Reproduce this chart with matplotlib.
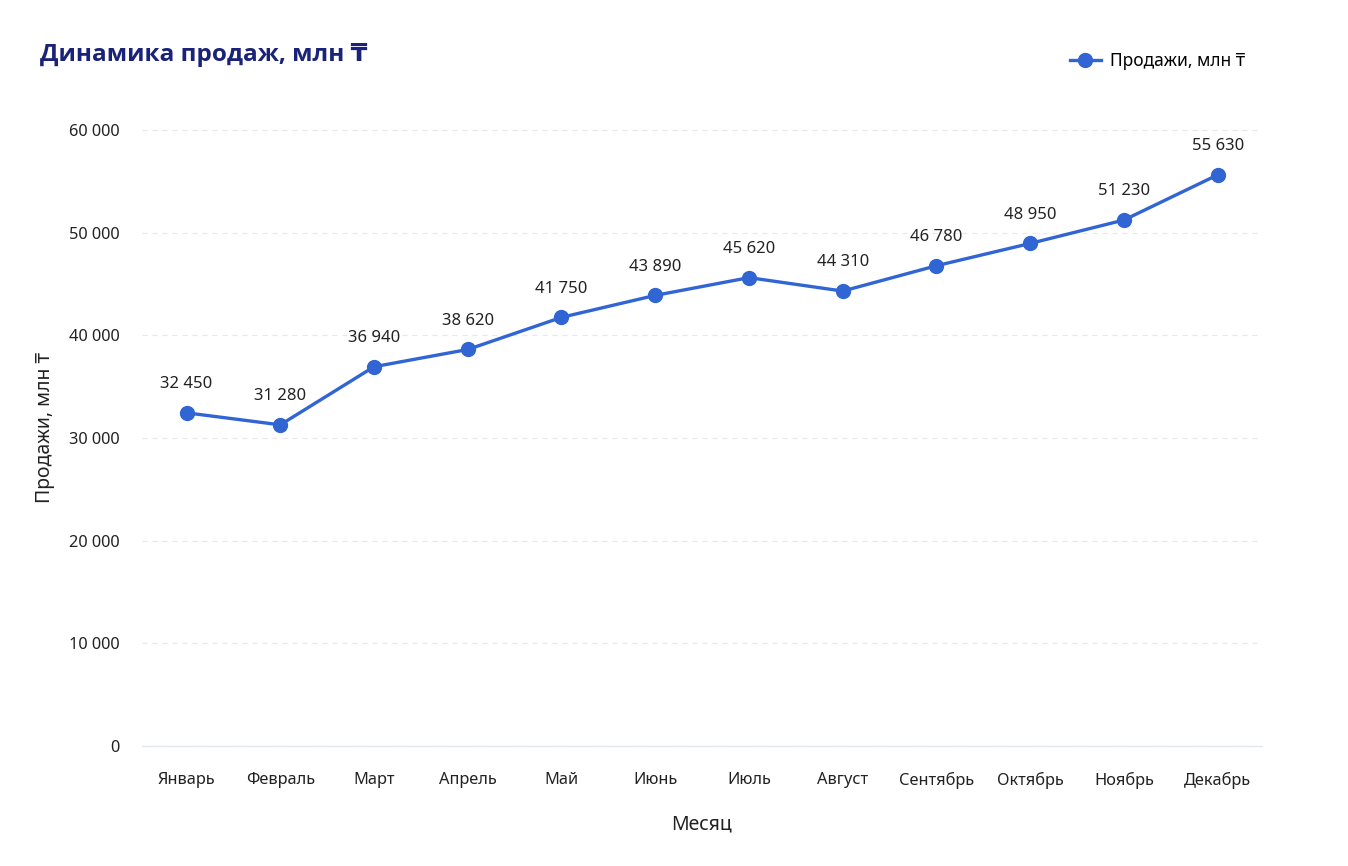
import matplotlib.pyplot as plt
from matplotlib.ticker import FuncFormatter

plt.rcParams['font.family'] = ['Noto Sans', 'DejaVu Sans']

months = ['Январь', 'Февраль', 'Март', 'Апрель', 'Май', 'Июнь',
          'Июль', 'Август', 'Сентябрь', 'Октябрь', 'Ноябрь', 'Декабрь']
sales = [32450, 31280, 36940, 38620, 41750, 43890,
         45620, 44310, 46780, 48950, 51230, 55630]
yticks = [0, 10000, 20000, 30000, 40000, 50000, 60000]

line_color = '#3165d4'
text_color = '#222222'


def fmt(v):
    return '{:,.0f}'.format(v).replace(',', ' ')


fig = plt.figure(figsize=(13.48, 8.66), dpi=100)
ax = fig.add_axes([0.105, 0.1386, 0.831, 0.735])

x = list(range(len(months)))
ax.plot(x, sales, color=line_color, lw=2.4, marker='o', ms=10,
        label='Продажи, млн ₸', zorder=3)

for xi, v in zip(x, sales):
    ax.annotate(fmt(v), (xi, v), xytext=(0, 15), textcoords='offset points',
                ha='center', va='bottom', fontsize=12, color=text_color)

ax.set_xlim(-0.48, 11.47)
ax.set_ylim(0, 62000)
ax.set_xticks(x)
ax.set_xticklabels(months)
ax.set_yticks(yticks)
ax.yaxis.set_major_formatter(FuncFormatter(lambda v, p: fmt(v)))
ax.tick_params(length=0, labelsize=11.8, labelcolor=text_color)
ax.tick_params(axis='x', pad=19)
ax.tick_params(axis='y', pad=16)

ax.grid(axis='y', ls=(0, (4, 4)), color='#e8e8e8', lw=0.9)
ax.grid(axis='x', visible=False)
for s in ['top', 'right', 'left']:
    ax.spines[s].set_visible(False)
ax.spines['bottom'].set_color('#e3e7ee')
ax.spines['bottom'].set_linewidth(1.0)

ax.set_xlabel('Месяц', fontsize=14, color=text_color, labelpad=18)
ax.set_ylabel('Продажи, млн ₸', fontsize=14, color=text_color, labelpad=10)

fig.text(0.03, 0.937, 'Динамика продаж, млн ₸', fontsize=17.5, fontweight='bold',
         family=['Open Sans', 'DejaVu Sans'],
         color='#1a2378', ha='left', va='center')

fig.legend(loc='center right', bbox_to_anchor=(0.935, 0.93), frameon=False,
           fontsize=12.5, handlelength=1.8, handletextpad=0.5)

fig.savefig('out.png', dpi=100, facecolor='white')
